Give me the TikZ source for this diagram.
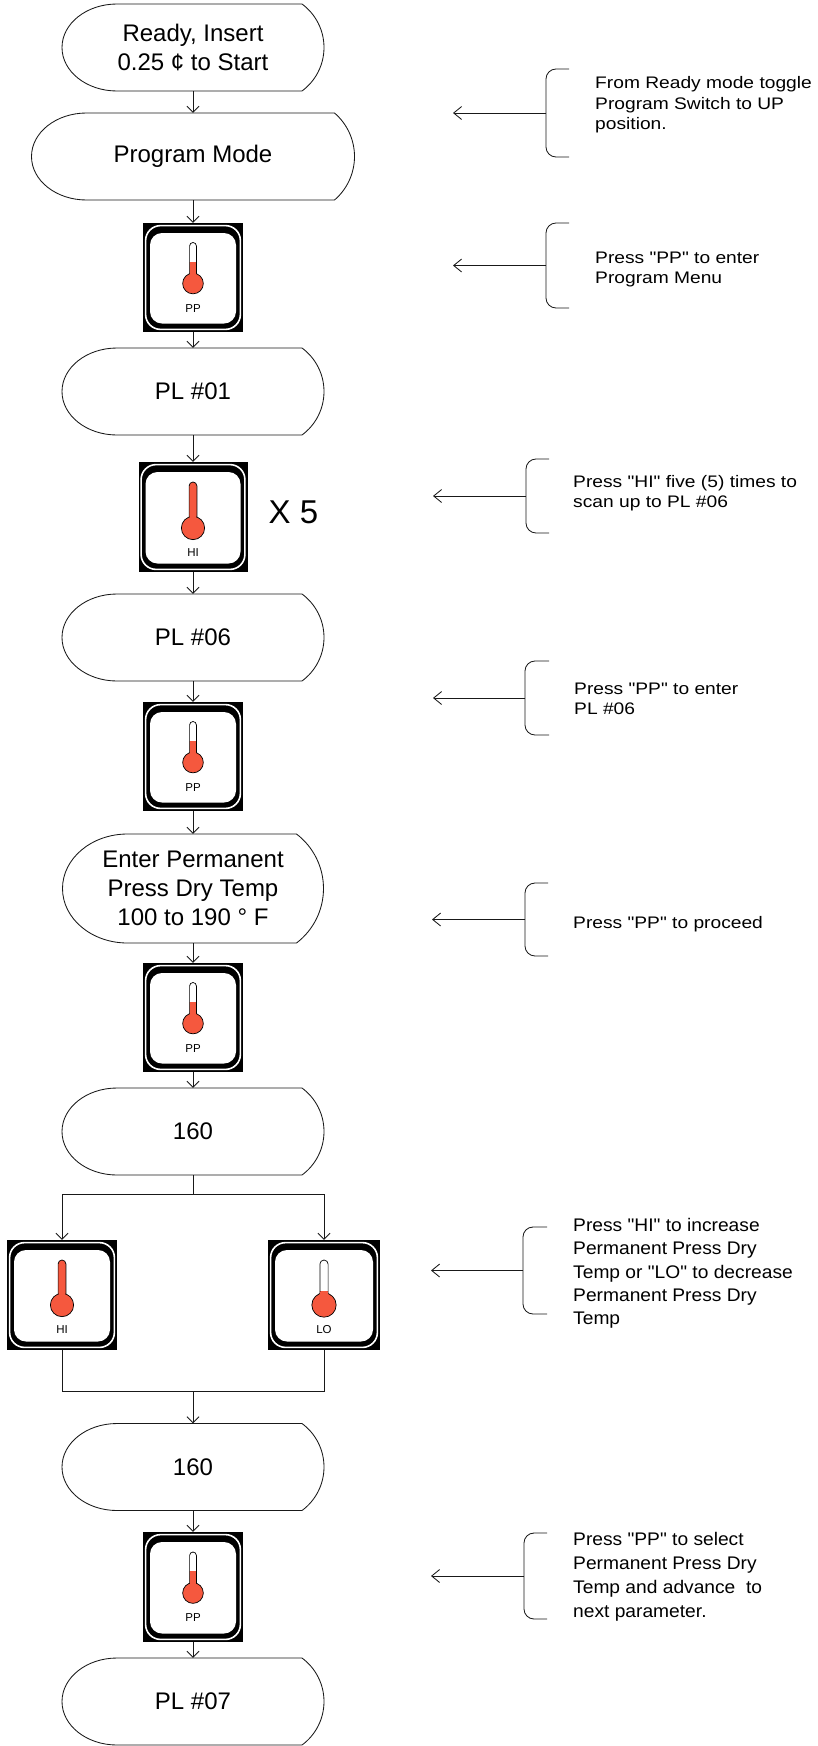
\documentclass[tikz,border=0pt]{standalone}
\usepackage{fontspec}
\setmainfont{Liberation Sans}
\newfontfamily\notefont{Liberation Sans}
\usepackage{graphicx}
\usetikzlibrary{arrows.meta}
\definecolor{tred}{RGB}{245,88,62}
\definecolor{lnc}{RGB}{25,25,25}

\tikzset{
 shapeline/.style={draw=lnc, line width=0.85pt},
 disptext/.style={font=\fontsize{24}{29}\selectfont, align=center, inner sep=0pt},
 btnbox/.style={fill=black, inner sep=0pt, draw=none},
 btnlabel/.style={font=\notefont\fontsize{11.5}{13}\selectfont, inner sep=0pt},
 flowarr/.style={draw=lnc, line width=0.85pt, -{Straight Barb[length=6pt,width=12pt]}},
 flowline/.style={draw=lnc, line width=0.85pt},
 notearr/.style={draw=lnc, line width=0.85pt, -{Straight Barb[length=8pt,width=13pt]}},
 brk/.style={draw=lnc, line width=0.85pt, rounded corners=10pt},
 notetext/.style={anchor=west, inner sep=0pt},
}

% display shape: name, cx, cy, w, h, left bulge, right bulge, text
\newcommand\dispshape[8]{%
 \node[disptext, minimum width=#4, minimum height=#5] (#1) at (#2,#3) {#8};
 \pgfmathsetmacro\dsL{#2-#4/2}%
 \pgfmathsetmacro\dsR{#2+#4/2}%
 \pgfmathsetmacro\dsT{#3-#5/2}%
 \pgfmathsetmacro\dsB{#3+#5/2}%
 \pgfmathsetmacro\dsxa{\dsL+#6}%
 \pgfmathsetmacro\dsxb{\dsR-#7}%
 \pgfmathsetmacro\dsc{#5/2}%
 \pgfmathsetmacro\dsr{(\dsc*\dsc+#7*#7)/(2*#7)}%
 \pgfmathsetmacro\dsth{asin(\dsc/\dsr)}%
 \pgfmathsetmacro\dsk{4/3*tan(\dsth/4)*\dsr}%
 \pgfmathsetmacro\dstx{\dsk*\dsc/\dsr}%
 \pgfmathsetmacro\dsty{\dsk*(\dsr-#7)/\dsr}%
 \pgfmathsetmacro\dslx{0.5523*#6}%
 \pgfmathsetmacro\dsly{0.5523*\dsc}%
 \draw[shapeline] (\dsxa,\dsT) -- (\dsxb,\dsT)
   .. controls ({\dsxb+\dstx},{\dsT+\dsty}) and (\dsR,{#3-\dsk}) .. (\dsR,#3)
   .. controls (\dsR,{#3+\dsk}) and ({\dsxb+\dstx},{\dsB-\dsty}) .. (\dsxb,\dsB)
   -- (\dsxa,\dsB)
   .. controls ({\dsxa-\dslx},\dsB) and (\dsL,{#3+\dsly}) .. (\dsL,#3)
   .. controls (\dsL,{#3-\dsly}) and ({\dsxa-\dslx},\dsT) .. (\dsxa,\dsT) -- cycle;
}

% button: name, cx, cy, w, h, label, red level, tube half width, bulb centre
\newcommand\btn[9]{%
 \node[btnbox, minimum width=#4, minimum height=#5] (#1) at (#2,#3) {};
 \pgfmathsetmacro\bw{#4/2}%
 \pgfmathsetmacro\bh{#5/2}%
 \pgfmathsetmacro\br{2.6*#8+1.5}%
 \begin{scope}[shift={(#1.center)}]
  \draw[white, line width=1.6pt, rounded corners=15pt] ({-\bw+2.6},{-\bh+2.6}) rectangle ({\bw-2.6},{\bh-2.6});
  \fill[white, rounded corners=12pt] ({-\bw+7},{-\bh+10}) rectangle ({\bw-7},{\bh-8.5});
  \fill[white, rounded corners=#8pt] ({-#8},-35) rectangle ({#8},{#9});
  \begin{scope}
   \clip[rounded corners=#8pt] ({-#8},-35) rectangle ({#8},{#9});
   \fill[tred] (-10,#7) rectangle (10,{#9});
  \end{scope}
  \draw[black, line width=0.7pt, rounded corners=#8pt] ({-#8},-35) rectangle ({#8},{#9});
  \filldraw[fill=tred, draw=black, line width=0.7pt] (0,#9) circle[radius=\br];
  \fill[tred] ({-#8+0.45},{#9-\br-1.2}) rectangle ({#8-0.45},{#9-\br+3});
  \node[btnlabel] (#1-lab) at (0,{#9+25}) {#6};
 \end{scope}
}

% bracket: name, x, ytop, ybottom, xtick, xtip
\newcommand\bracket[6]{%
 \draw[brk] (#5,#3) -- (#2,#3) -- (#2,#4) -- (#5,#4);
 \coordinate (#1-m) at (#2,{(#3+#4)/2});
 \coordinate (#1-t) at (#6,{(#3+#4)/2});
 \draw[notearr] (#1-m) -- (#1-t);
}

\newcommand\rtext[3]{\scalebox{1}[#1]{\notefont\fontsize{19.2}{#2}\selectfont\begin{tabular}{@{}l@{}}#3\end{tabular}}}

\begin{document}
\begin{tikzpicture}[x=1pt,y=-1pt]
\fill[white] (0,0) rectangle (817,1746);
\useasboundingbox (0,0) rectangle (817,1746);

% left column
\dispshape{ready}{193}{47.5}{262}{87}{55}{22}{Ready, Insert\\0.25 ¢ to Start}
\dispshape{prog}{193}{156.5}{323}{87}{55}{20}{Program Mode}
\btn{pp1}{193}{277.5}{100}{109}{PP}{-16}{3.4}{6}
\dispshape{pl01}{193}{391.5}{262}{87}{55}{22}{PL \#01}
\btn{hi1}{193}{517}{109}{110}{HI}{-40}{3.9}{11}
\node[font=\fontsize{33}{38}\selectfont, inner sep=0pt] (x5) at (293.5,512) {X 5};
\dispshape{pl06}{193}{637.5}{262}{87}{55}{22}{PL \#06}
\btn{pp2}{193}{756.5}{100}{109}{PP}{-16}{3.4}{6}
\dispshape{enter}{193}{888.5}{261}{109}{65}{27}{Enter Permanent\\Press Dry Temp\\100 to 190 ° F}
\btn{pp3}{193}{1017.5}{100}{109}{PP}{-16}{3.4}{6}
\dispshape{ta}{193}{1131.5}{262}{87}{55}{22}{160}
\btn{hib}{62}{1295}{110}{110}{HI}{-40}{3.9}{10}
\btn{lob}{324}{1295}{112}{110}{LO}{-4}{4.1}{10}
\dispshape{tb}{193}{1467}{262}{87}{55}{22}{160}
\btn{pp4}{193}{1587}{100}{110}{PP}{-16}{3.4}{6}
\dispshape{pl07}{193}{1701.5}{262}{87}{55}{22}{PL \#07}

% connectors
\draw[flowarr] (ready.south) -- (prog.north);
\draw[flowarr] (prog.south) -- (pp1.north);
\draw[flowarr] (pp1.south) -- (pl01.north);
\draw[flowarr] (pl01.south) -- (hi1.north);
\draw[flowarr] (hi1.south) -- (pl06.north);
\draw[flowarr] (pl06.south) -- (pp2.north);
\draw[flowarr] (pp2.south) -- (enter.north);
\draw[flowarr] (enter.south) -- (pp3.north);
\draw[flowarr] (pp3.south) -- (ta.north);
\coordinate (split) at (193,1194);
\draw[flowline] (ta.south) -- (split);
\draw[flowarr] (split) -| (hib.north);
\draw[flowarr] (split) -| (lob.north);
\coordinate (merge) at (193,1391);
\draw[flowline] (hib.south) |- (merge) -| (lob.south);
\draw[flowarr] (merge) -- (tb.north);
\draw[flowarr] (tb.south) -- (pp4.north);
\draw[flowarr] (pp4.south) -- (pl07.north);

% notes
\bracket{b1}{546}{69}{157}{569}{453}
\bracket{b2}{546}{223}{308}{569}{453}
\bracket{b3}{526}{459}{533}{549}{433}
\bracket{b4}{525}{661}{735}{549}{433}
\bracket{b5}{525}{883}{956}{548}{432}
\bracket{b6}{523}{1227}{1314}{547}{431}
\bracket{b7}{524}{1533}{1619}{547}{431}

\node[notetext] (n1) at (595,105) {\rtext{0.87}{23}{From Ready mode toggle\\Program Switch to UP\\position.}};
\node[notetext] (n2) at (595,269.5) {\rtext{0.87}{23}{Press "PP" to enter\\Program Menu}};
\node[notetext] (n3) at (573,493) {\rtext{0.87}{23}{Press "HI" five (5) times to\\scan up to PL \#06}};
\node[notetext] (n4) at (574,700.5) {\rtext{0.87}{23}{Press "PP" to enter\\PL \#06}};
\node[notetext] (n5) at (573,924) {\rtext{0.87}{23}{Press "PP" to proceed}};
\node[notetext] (n6) at (573,1273.5) {\rtext{0.95}{24.5}{Press "HI" to increase\\Permanent Press Dry\\Temp or "LO" to decrease\\Permanent Press Dry\\Temp}};
\node[notetext] (n7) at (573,1576.5) {\rtext{0.95}{25.5}{Press "PP" to select\\Permanent Press Dry\\Temp and advance\ \ to\\next parameter.}};
\end{tikzpicture}
\end{document}
